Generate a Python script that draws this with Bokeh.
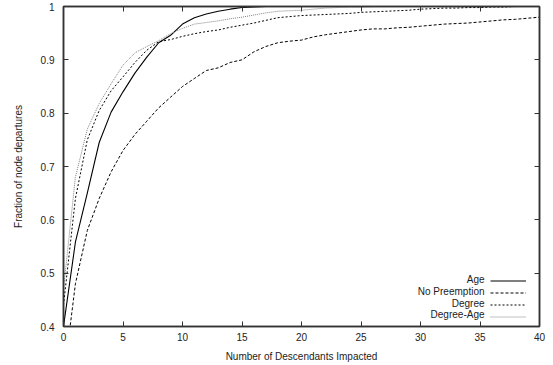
from bokeh.plotting import figure
from bokeh.models import (ColumnDataSource, LinearAxis, FixedTicker, Legend,
                          LegendItem, Label)
from bokeh.core.properties import value
from bokeh.embed import file_html
from bokeh.resources import INLINE

# Number of descendants impacted (x) and cumulative fraction of node departures
descendants = list(range(0, 41))

age = [0.40, 0.558, 0.65, 0.745, 0.802, 0.84, 0.875, 0.905, 0.932, 0.946,
       0.967, 0.979, 0.986, 0.991, 0.995, 0.998, 0.999, 1.0, 1.0, 1.0,
       1.0, 1.0, 1.0, 1.0, 1.0, 1.0, 1.0, 1.0, 1.0, 1.0,
       1.0, 1.0, 1.0, 1.0, 1.0, 1.0, 1.0, 1.0, 1.0, 1.0, 1.0]

no_preemption = [0.30, 0.48, 0.58, 0.64, 0.69, 0.73, 0.76, 0.785, 0.81, 0.83,
                 0.85, 0.865, 0.88, 0.885, 0.895, 0.90, 0.915, 0.925, 0.932, 0.935,
                 0.937, 0.943, 0.947, 0.95, 0.953, 0.956, 0.958, 0.958, 0.96, 0.961,
                 0.963, 0.965, 0.967, 0.968, 0.969, 0.971, 0.973, 0.975, 0.976, 0.978,
                 0.98]

degree = [0.44, 0.64, 0.75, 0.805, 0.842, 0.868, 0.895, 0.918, 0.934, 0.938,
          0.944, 0.949, 0.953, 0.956, 0.961, 0.965, 0.969, 0.974, 0.979, 0.981,
          0.983, 0.984, 0.985, 0.986, 0.987, 0.989, 0.99, 0.991, 0.992, 0.993,
          0.995, 0.996, 0.997, 0.997, 0.998, 0.998, 0.999, 0.999, 1.0, 1.0, 1.0]

degree_age = [0.47, 0.68, 0.77, 0.818, 0.855, 0.89, 0.913, 0.925, 0.936, 0.949,
              0.959, 0.967, 0.97, 0.973, 0.977, 0.98, 0.984, 0.988, 0.991, 0.992,
              0.993, 0.995, 0.997, 0.998, 0.999, 0.999, 1.0, 1.0, 1.0, 1.0,
              1.0, 1.0, 1.0, 1.0, 1.0, 1.0, 1.0, 1.0, 1.0, 1.0, 1.0]

series_names = ["Age", "No Preemption", "Degree", "Degree-Age"]
x_ticks = [0, 5, 10, 15, 20, 25, 30, 35, 40]
y_ticks = [0.4, 0.5, 0.6, 0.7, 0.8, 0.9, 1.0]
y_tick_labels = {0.4: "0.4", 0.5: "0.5", 0.6: "0.6", 0.7: "0.7",
                 0.8: "0.8", 0.9: "0.9", 1.0: "1"}

FONT = "Liberation Sans"
TEXT = "#222222"

source = ColumnDataSource(dict(x=descendants, age=age, nop=no_preemption,
                               deg=degree, dage=degree_age))

p = figure(width=553, height=365, x_range=(0, 40), y_range=(0.4, 1.0),
           output_backend="svg", toolbar_location=None,
           x_axis_location=None, y_axis_location=None,
           min_border_left=63, min_border_right=14,
           min_border_top=6, min_border_bottom=39)
p.grid.visible = False
p.outline_line_color = "#333333"
p.outline_line_width = 1.5
p.background_fill_color = "white"
p.border_fill_color = "white"


def style_axis(ax, ticks, show_labels):
    ax.major_tick_in = 5
    ax.major_tick_out = 0
    ax.minor_tick_line_color = None
    ax.axis_line_color = "#333333"
    ax.axis_line_width = 1.5
    ax.major_tick_line_color = "#333333"
    ax.major_tick_line_width = 1
    ax.major_label_text_font = FONT
    ax.major_label_text_color = TEXT
    ax.major_label_text_font_size = "10px"
    ax.axis_label_text_font = FONT
    ax.axis_label_text_color = TEXT
    ax.axis_label_text_font_style = "normal"
    ax.axis_label_text_font_size = "10px"
    if not show_labels:
        # mirrored tick marks only
        ax.major_label_overrides = {t: "" for t in ticks}
        ax.major_label_standoff = 0


xb = LinearAxis(ticker=FixedTicker(ticks=x_ticks),
                axis_label="Number of Descendants Impacted")
style_axis(xb, x_ticks, True)
xb.major_label_standoff = 6
xb.axis_label_standoff = 7
p.add_layout(xb, "below")

xt = LinearAxis(ticker=FixedTicker(ticks=x_ticks))
style_axis(xt, x_ticks, False)
p.add_layout(xt, "above")

yl = LinearAxis(ticker=FixedTicker(ticks=y_ticks),
                axis_label="Fraction of node departures")
style_axis(yl, y_ticks, True)
yl.major_label_overrides = y_tick_labels
yl.major_label_standoff = 9
yl.axis_label_standoff = 14
p.add_layout(yl, "left")

yr = LinearAxis(ticker=FixedTicker(ticks=y_ticks))
style_axis(yr, y_ticks, False)
p.add_layout(yr, "right")

r_age = p.line("x", "age", source=source, line_color="black", line_width=1.1)
r_nop = p.line("x", "nop", source=source, line_color="black", line_width=1.0,
               line_dash="3 2")
r_deg = p.line("x", "deg", source=source, line_color="black", line_width=1.0,
               line_dash="2 2")
r_dage = p.line("x", "dage", source=source, line_color="#808080",
                line_width=1.0, line_dash="1 1")

renderers = [r_age, r_nop, r_deg, r_dage]
legend = Legend(items=[LegendItem(label=value(""), renderers=[r]) for r in renderers],
                location=(427, 4), orientation="vertical",
                glyph_width=36, glyph_height=11, label_height=11,
                label_width=0, label_standoff=0, spacing=1,
                padding=0, margin=0, border_line_color=None,
                background_fill_alpha=0, label_text_font_size="10px")
p.add_layout(legend)

# Right-aligned legend texts to the left of the line samples
row_y = [326 - 279, 326 - 291, 326 - 303, 326 - 314]
for name, yy in zip(series_names, row_y):
    p.add_layout(Label(x=421, y=yy, x_units="screen", y_units="screen",
                       text=name, text_align="right", text_baseline="middle",
                       text_font=FONT, text_font_size="10px",
                       text_color=TEXT))

open("out.html", "w").write(file_html(p, INLINE))
